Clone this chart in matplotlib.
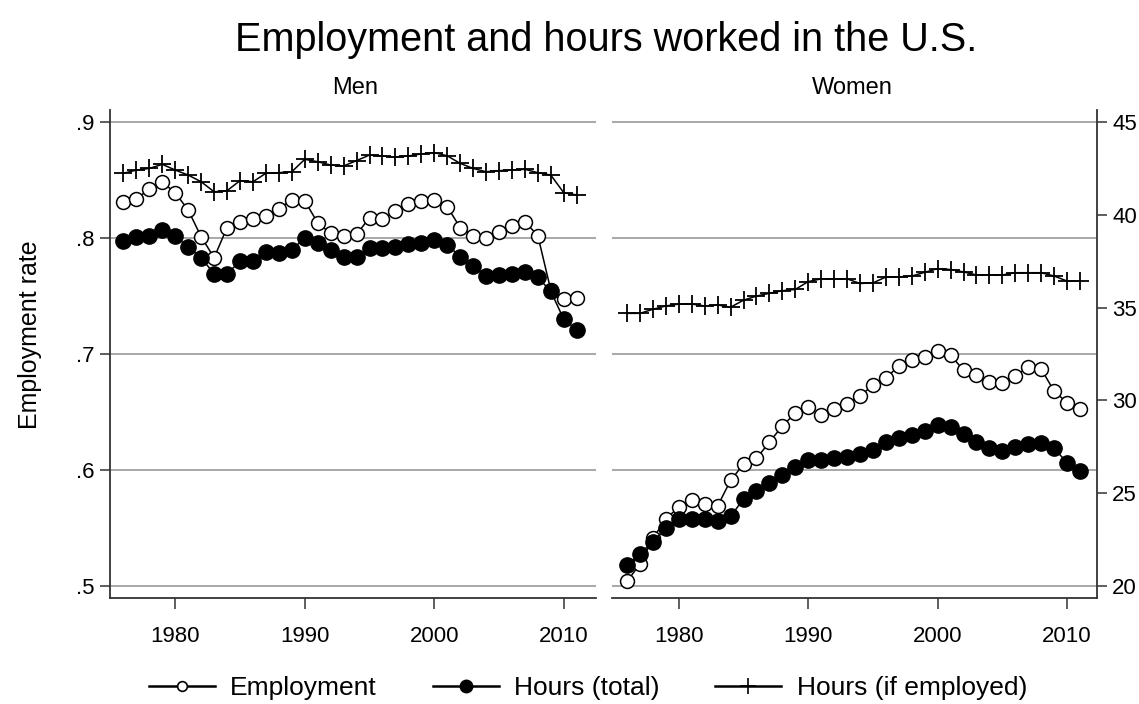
import matplotlib
matplotlib.use('Agg')
import matplotlib.pyplot as plt
from matplotlib.lines import Line2D

plt.rcParams['font.family'] = ['Liberation Sans', 'DejaVu Sans']

# ---------------- data ----------------
years = list(range(1976, 2012))

men_employment = [.831, .834, .842, .848, .839, .824, .801, .783, .809, .814, .816, .819, .825,
                  .833, .832, .813, .804, .802, .803, .8175, .816, .823, .829, .832, .833,
                  .827, .809, .802, .800, .805, .810, .814, .802, .755, .747, .748]
men_hours_total = [.797, .801, .802, .807, .802, .792, .783, .769, .769, .780, .780, .788, .787,
                   .790, .800, .796, .790, .784, .784, .791, .791, .792, .795, .796, .798,
                   .794, .784, .776, .767, .768, .769, .771, .766, .754, .730, .721]
men_hours_employed = [42.24, 42.41, 42.5, 42.72, 42.41, 42.14, 41.78, 41.24, 41.3, 41.84, 41.78, 42.24, 42.27,
                      42.32, 42.99, 42.86, 42.68, 42.63, 42.92, 43.22, 43.17, 43.1, 43.17, 43.28, 43.35,
                      43.18, 42.77, 42.5, 42.32, 42.38, 42.41, 42.45, 42.27, 42.14, 41.19, 41.07]

women_employment = [.504, .519, .541, .558, .568, .574, .571, .569, .591, .605,
                    .610, .624, .638, .649, .654, .647, .653, .657, .664, .673, .679, .690,
                    .695, .697, .703, .699, .686, .682, .676, .675, .681, .689, .687, .668, .658, .653]
women_hours_total = [.518, .528, .538, .550, .558, .558, .558, .556, .560, .575,
                     .582, .589, .596, .603, .609, .609, .610, .611, .614, .617, .624, .628,
                     .630, .634, .639, .637, .631, .624, .619, .616, .620, .622, .623, .619, .606, .599]
women_hours_employed = [34.69, 34.69, 34.91, 35.09, 35.19, 35.19, 35.09, 35.14, 35.02, 35.4,
                        35.62, 35.77, 35.91, 35.98, 36.4, 36.55, 36.55, 36.55, 36.3, 36.33, 36.65, 36.65,
                        36.7, 36.9, 37.1, 37.05, 36.92, 36.76, 36.76, 36.76, 36.88, 36.88, 36.88, 36.7, 36.43, 36.43]

emp_ticks = [.5, .6, .7, .8, .9]
emp_ticklabels = ['.5', '.6', '.7', '.8', '.9']
hours_ticks = [20, 25, 30, 35, 40, 45]
year_ticks = [1980, 1990, 2000, 2010]
series_labels = ['Employment', 'Hours (total)', 'Hours (if employed)']

# ---------------- layout ----------------
W, H = 1139, 704
fig = plt.figure(figsize=(W / 100, H / 100), dpi=100)
fig.patch.set_facecolor('white')


def rect(l, r, t, b):
    return [l / W, 1 - b / H, (r - l) / W, (b - t) / H]


EMP_LIM = (0.4897, 0.9103)
HRS_LIM = (19.353, 45.647)
GRID_C = '#a8a8a8'
SPINE_C = '#333333'
TICK_FS = 16


def draw_panel(r, xlim, emp, htot, hemp, side):
    ax = fig.add_axes(r)
    ax2 = ax.twinx()
    for a in (ax, ax2):
        a.patch.set_visible(False)
        for s in a.spines.values():
            s.set_visible(False)
    ax.set_ylim(*EMP_LIM)
    ax2.set_ylim(*HRS_LIM)
    ax.set_yticks(emp_ticks)
    ax.grid(axis='y', color=GRID_C, lw=1.4)
    ax.set_axisbelow(True)

    ax.plot(years, emp, color='black', lw=1.1, marker='o', ms=10,
            mfc='white', mec='black', mew=1.1, zorder=3)
    ax.plot(years, htot, color='black', lw=1.1, marker='o', ms=11,
            mfc='black', mec='black', zorder=4)
    ax2.plot(years, hemp, color='black', lw=1.1, marker='+', ms=13, mew=1.3, zorder=3)

    ax.set_xlim(*xlim)
    ax.set_xticks(year_ticks)
    ax.set_xticklabels([str(y) for y in year_ticks], fontsize=TICK_FS)
    ax.tick_params(axis='x', length=8, width=1.1, color=SPINE_C, pad=12)
    ax.spines['bottom'].set_visible(True)
    ax.spines['bottom'].set_color(SPINE_C)
    ax.spines['bottom'].set_linewidth(1.3)

    if side == 'left':
        ax.spines['left'].set_visible(True)
        ax.spines['left'].set_color(SPINE_C)
        ax.spines['left'].set_linewidth(1.3)
        ax.set_yticklabels(emp_ticklabels, fontsize=TICK_FS)
        ax.tick_params(axis='y', length=7, width=1.1, color=SPINE_C, pad=4)
        ax2.tick_params(axis='y', right=False, labelright=False)
    else:
        ax.tick_params(axis='y', length=0, labelleft=False)
        ax2.spines['right'].set_visible(True)
        ax2.spines['right'].set_color(SPINE_C)
        ax2.spines['right'].set_linewidth(1.3)
        ax2.set_yticks(hours_ticks)
        ax2.set_yticklabels([str(h) for h in hours_ticks], fontsize=TICK_FS)
        ax2.tick_params(axis='y', length=7, width=1.1, color=SPINE_C, pad=4)
    return ax


draw_panel(rect(110, 596, 110, 598), (1974.96, 2012.49),
           men_employment, men_hours_total, men_hours_employed, 'left')
draw_panel(rect(612, 1097, 110, 598), (1974.84, 2012.31),
           women_employment, women_hours_total, women_hours_employed, 'right')

fig.text(606 / W, 1 - 40 / H, 'Employment and hours worked in the U.S.',
         ha='center', va='center', fontsize=28.5)
fig.text(355 / W, 1 - 88 / H, 'Men', ha='center', va='center', fontsize=17)
fig.text(852 / W, 1 - 88 / H, 'Women', ha='center', va='center', fontsize=17)
fig.text(30 / W, 1 - 335 / H, 'Employment rate', ha='center', va='center',
         rotation=90, fontsize=18)

handles = [
    Line2D([], [], color='black', lw=1.8, marker='o', ms=7, mfc='white', mec='black', mew=1.2),
    Line2D([], [], color='black', lw=1.8, marker='o', ms=9, mfc='black', mec='black'),
    Line2D([], [], color='black', lw=1.8, marker='+', ms=11, mew=1.2),
]
fig.legend(handles, series_labels, loc='center', bbox_to_anchor=(588 / W, 1 - 688 / H),
           ncol=3, frameon=False, fontsize=19, handlelength=2.5, handletextpad=0.6,
           columnspacing=2.1)

fig.savefig('out.png', dpi=100, facecolor='white')
